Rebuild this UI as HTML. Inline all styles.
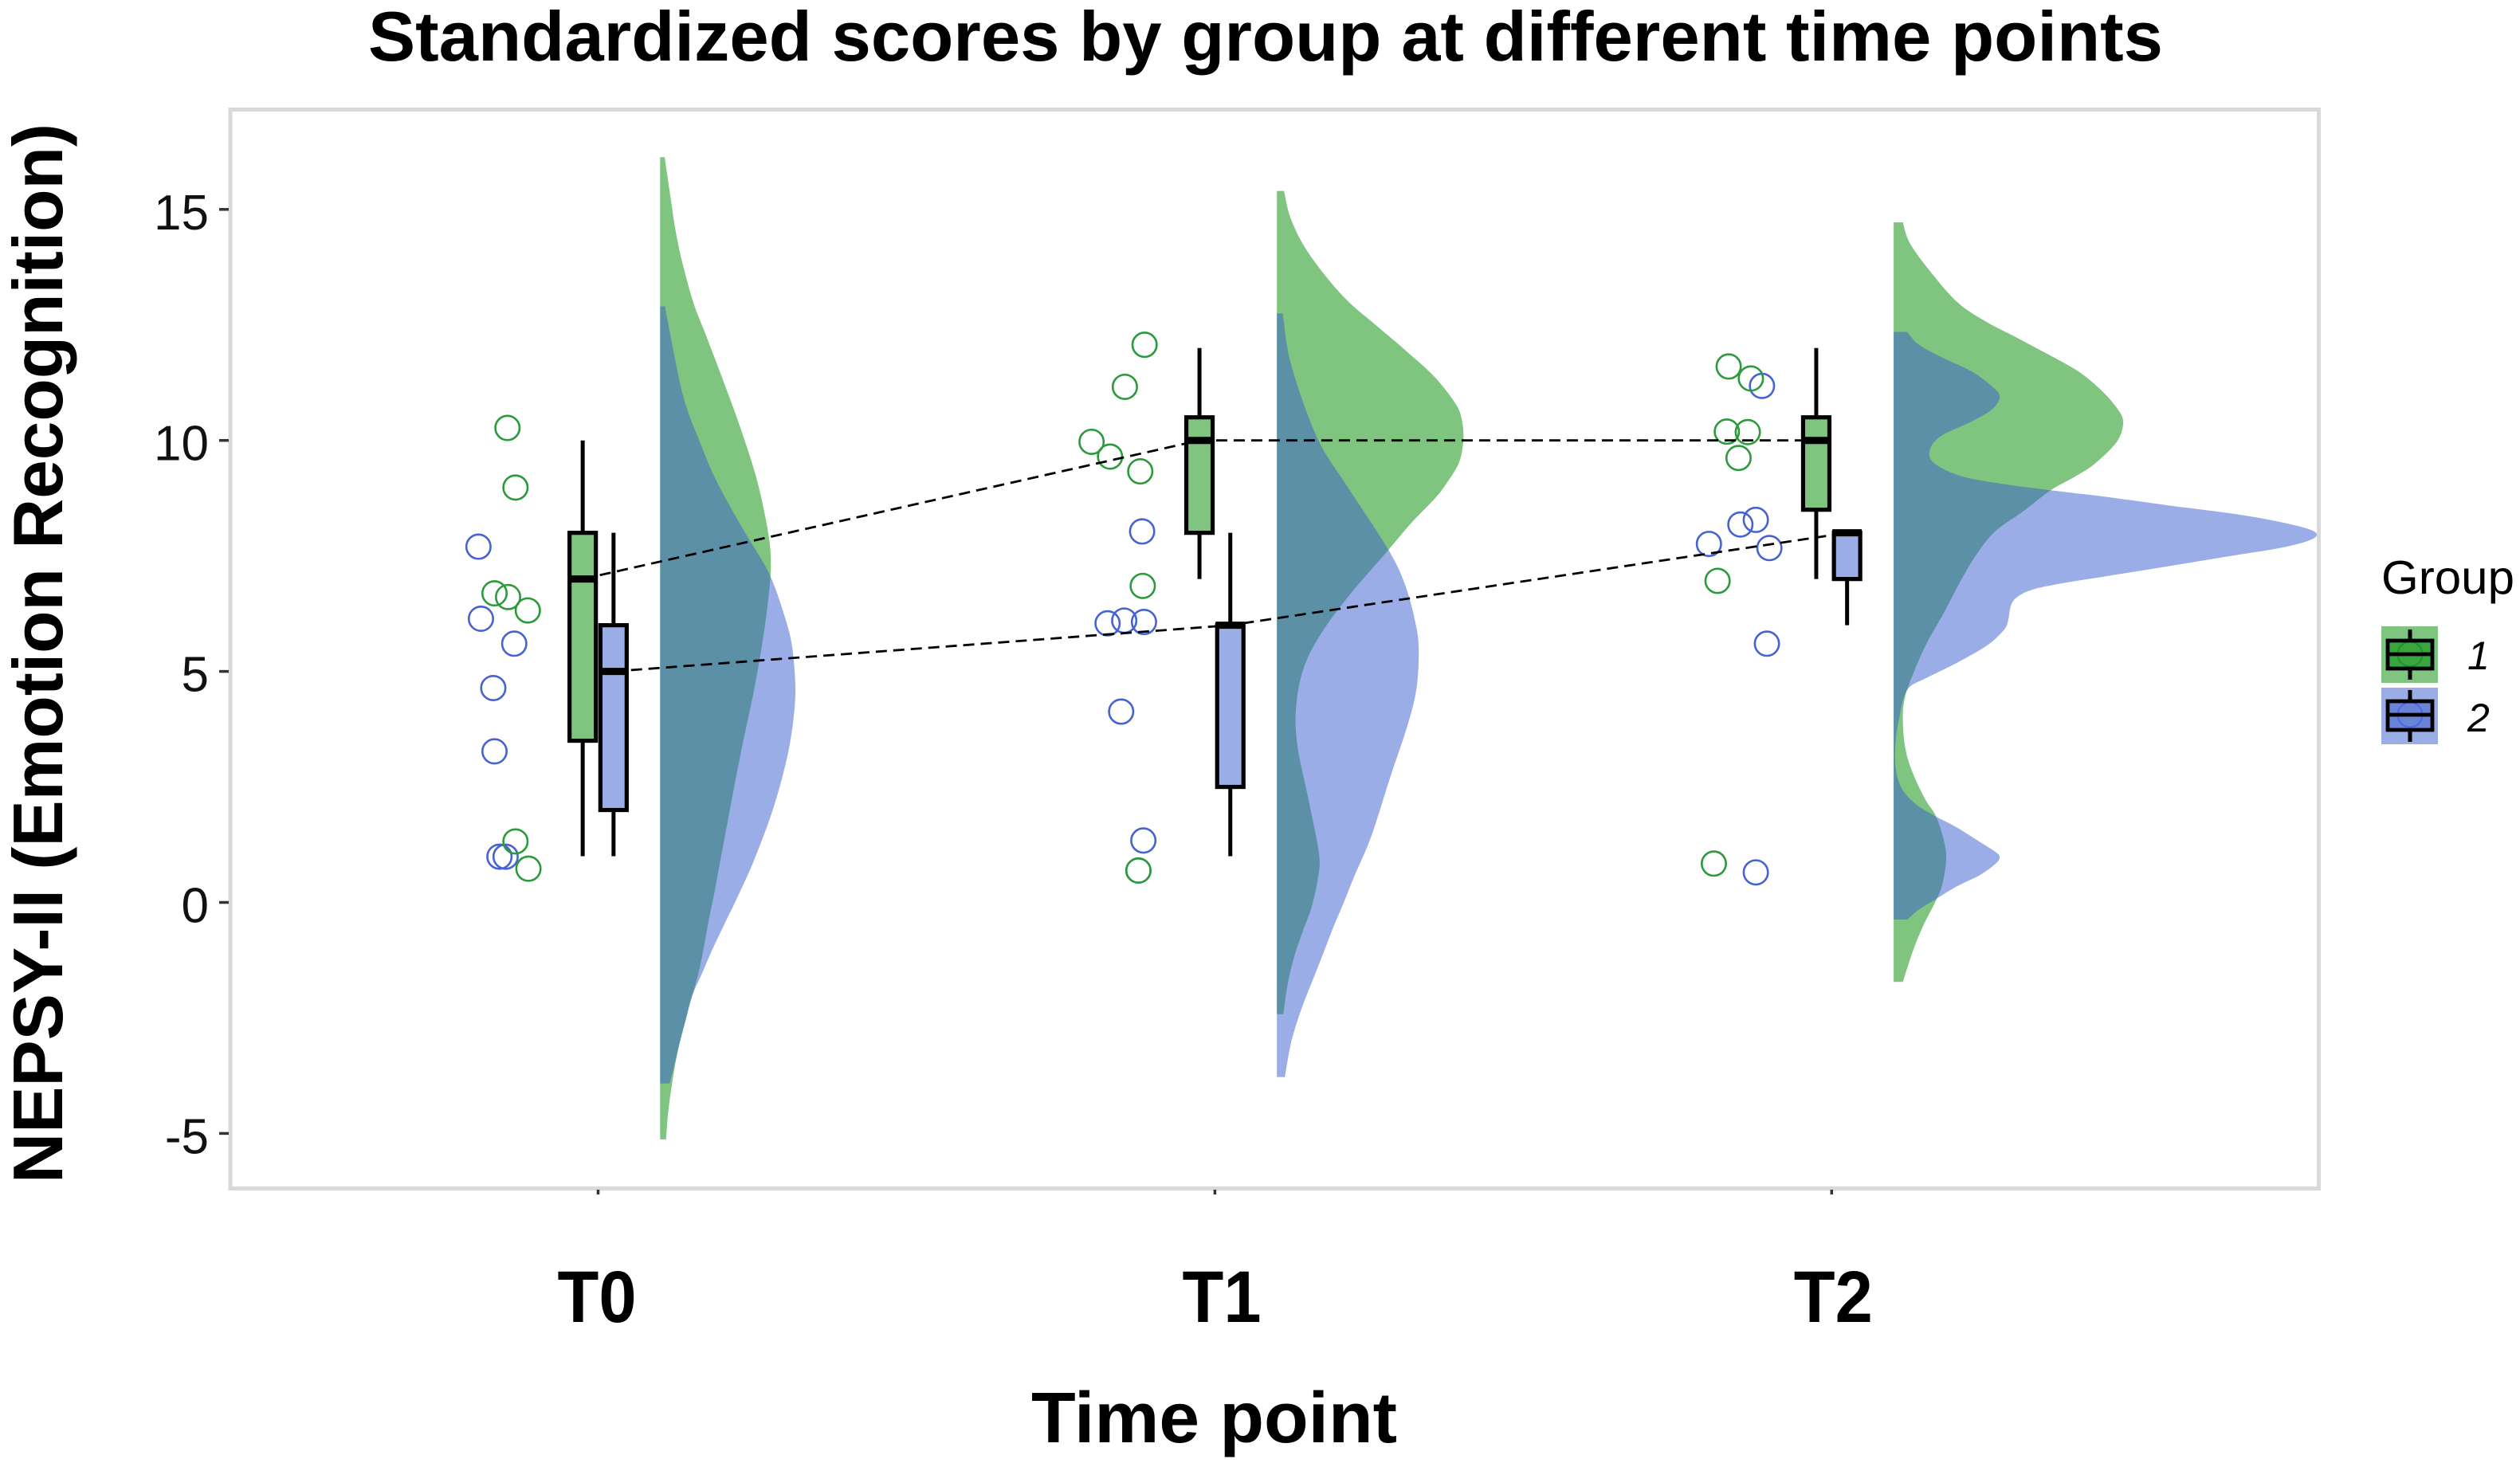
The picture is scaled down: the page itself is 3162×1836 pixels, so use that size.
<!DOCTYPE html>
<html lang="en">
<head>
<meta charset="utf-8">
<title>Standardized scores by group at different time points</title>
<style>
  html, body { margin: 0; padding: 0; background: #ffffff; }
  svg { display: block; }
  text { font-family: "Liberation Sans", Arial, sans-serif; }
</style>
</head>
<body>
<svg id="chart" xmlns="http://www.w3.org/2000/svg" width="3162" height="1836" viewBox="0 0 3162 1836">
  <rect x="0" y="0" width="3162" height="1836" fill="#ffffff"/>
  <text x="462" y="76" font-size="88" font-weight="700" fill="#000" textLength="2252" lengthAdjust="spacingAndGlyphs">Standardized scores by group at different time points</text>
  <text transform="translate(78,1485) rotate(-90)" x="0" y="0" font-size="88" font-weight="700" fill="#000" textLength="1330" lengthAdjust="spacingAndGlyphs">NEPSY-II (Emotion Recognition)</text>
  <text x="1294" y="1810" font-size="90" font-weight="700" fill="#000" textLength="459" lengthAdjust="spacingAndGlyphs">Time point</text>
  <rect x="289" y="137.5" width="2620.5" height="1354" fill="none" stroke="#d9d9d9" stroke-width="5"/>
  <g id="y-axis"></g>
  <g id="x-axis"></g>
  <g id="densities"></g>
  <g id="points"></g>
  <g id="links"></g>
  <g id="boxes"></g>

  <g>
    <text x="2988" y="745" font-size="59" fill="#000" textLength="167" lengthAdjust="spacingAndGlyphs">Group</text>
    <g>
      <rect x="2988" y="786" width="71" height="71" fill="#008900" fill-opacity="0.5"/>
      <line x1="3024" x2="3024" y1="790" y2="853" stroke="#000" stroke-width="5"/>
      <rect x="2996" y="804" width="56" height="35" fill="#3aa53f"/>
      <circle cx="3024" cy="821" r="15.5" fill="none" stroke="#1f8f2f" stroke-width="2"/>
      <rect x="2996" y="804" width="56" height="35" fill="none" stroke="#000" stroke-width="4.8"/>
      <line x1="2996" x2="3052" y1="821" y2="821" stroke="#000" stroke-width="4.8"/>
      <text x="3096" y="840" font-size="50" font-style="italic" fill="#000">1</text>
    </g>
    <g>
      <rect x="2988" y="863" width="71" height="71" fill="#375bcd" fill-opacity="0.5"/>
      <line x1="3024" x2="3024" y1="866" y2="931" stroke="#000" stroke-width="5"/>
      <rect x="2996" y="880" width="56" height="36" fill="#6a82d8"/>
      <circle cx="3024" cy="897" r="15.5" fill="none" stroke="#4a6ae0" stroke-width="2"/>
      <rect x="2996" y="880" width="56" height="36" fill="none" stroke="#000" stroke-width="4.8"/>
      <line x1="2996" x2="3052" y1="897" y2="897" stroke="#000" stroke-width="4.8"/>
      <text x="3096" y="918" font-size="50" font-style="italic" fill="#000">2</text>
    </g>
  </g>
</svg>

<script>
// ---------- axis data ----------
const categories = ["T0", "T1", "T2"];
const yTicks = [15, 10, 5, 0, -5];
const yTickLabels = ["15", "10", "5", "0", "-5"];
const groups = ["1", "2"];

// ---------- boxplot statistics, indexed by time point ----------
const g1WhiskerLow  = [1, 7, 7];
const g1BoxLow      = [3.5, 8, 8.5];
const g1Median      = [7, 10, 10];
const g1BoxHigh     = [8, 10.5, 10.5];
const g1WhiskerHigh = [10, 12, 12];

const g2WhiskerLow  = [1, 1, 6];
const g2BoxLow      = [2, 2.5, 7];
const g2Median      = [5, 6, 8];
const g2BoxHigh     = [6, 6, 8];
const g2WhiskerHigh = [8, 8, 8];

// ---------- individual scores and their jitter (in category units) ----------
const t0G1Scores = [10.27, 8.98, 6.69, 6.61, 6.32, 1.32, 0.73];
const t0G1Jitter = [-0.147, -0.134, -0.168, -0.146, -0.114, -0.134, -0.113];
const t0G2Scores = [7.70, 6.14, 5.6, 4.64, 3.27, 0.99, 0.99];
const t0G2Jitter = [-0.194, -0.190, -0.136, -0.170, -0.168, -0.160, -0.150];

const t1G1Scores = [12.07, 11.16, 9.97, 9.65, 9.33, 6.85, 0.69];
const t1G1Jitter = [-0.114, -0.146, -0.200, -0.170, -0.121, -0.117, -0.124];
const t1G2Scores = [8.03, 6.04, 6.1, 6.07, 4.13, 1.34, 0.69];
const t1G2Jitter = [-0.118, -0.174, -0.147, -0.115, -0.152, -0.116, -0.124];

const t2G1Scores = [11.6, 11.34, 10.19, 10.18, 9.62, 6.96, 0.84];
const t2G1Jitter = [-0.167, -0.131, -0.170, -0.136, -0.151, -0.185, -0.191];
const t2G2Scores = [11.18, 8.28, 8.18, 7.76, 7.67, 5.6, 0.65];
const t2G2Jitter = [-0.113, -0.123, -0.148, -0.199, -0.101, -0.105, -0.123];

// ---------- density curves: score value and density height ----------
const t0G1DensityV = [16.13,15.27,14.58,13.84,12.97,12.32,11.46,10.28,9.11,7.96,7.28,6.61,5.70,4.61,3.18,1.59,0.2,-0.30,-1.39,-2.15,-2.54,-3.23,-3.92,-4.56,-5.13];
const t0G1DensityD = [0.057,0.13,0.19,0.28,0.42,0.565,0.756,1.006,1.22,1.36,1.39,1.36,1.29,1.18,1.006,0.83,0.68,0.62,0.50,0.38,0.32,0.22,0.15,0.10,0.075];
const t0G2DensityV = [12.9,12.63,10.96,9.96,9.11,8.2,7.37,7.03,6.53,5.7,4.94,4.27,3.27,2.09,0.92,0.04,-0.42,-1.04,-1.56,-2.03,-2.49,-3.01,-3.58,-3.92];
const t0G2DensityD = [0.066,0.09,0.29,0.50,0.71,1.0,1.29,1.39,1.5,1.64,1.69,1.69,1.61,1.43,1.18,0.95,0.82,0.65,0.52,0.40,0.33,0.25,0.17,0.12];

const t1G1DensityV = [15.4,14.82,14.18,13.54,13.0,12.54,12,11.39,10.8,10.45,10.0,9.5,9.0,8.72,8.22,7.63,6.63,5.78,5.04,4.2,3.37,2.2,1.03,0.47,-0.13,-0.6,-1.16,-1.73,-2.42];
const t1G1DensityD = [0.09,0.17,0.35,0.62,0.90,1.21,1.58,1.97,2.24,2.32,2.34,2.28,2.10,1.97,1.69,1.40,0.90,0.54,0.33,0.24,0.26,0.40,0.53,0.51,0.43,0.33,0.22,0.14,0.08];
const t1G2DensityV = [12.75,11.63,10.04,8.96,7.63,6.87,6.04,5.46,4.61,3.78,2.7,1.44,0.56,0,-0.53,-1.11,-1.68,-2.2,-2.77,-3.18,-3.78];
const t1G2DensityD = [0.073,0.18,0.51,0.90,1.40,1.61,1.74,1.78,1.75,1.63,1.42,1.186,0.97,0.84,0.71,0.58,0.45,0.33,0.22,0.16,0.10];

const t2G1DensityV = [14.72,14.28,13.7,12.99,12.56,12.22,11.87,11.49,11.06,10.68,10.39,9.97,9.49,9.22,8.92,8.47,8.04,7.56,7.02,6.27,5.56,4.8,4.37,3.94,3.3,2.76,2.22,1.9,1.47,0.98,0.39,0,-0.47,-1.01,-1.72];
const t2G1DensityD = [0.115,0.20,0.44,0.80,1.17,1.55,1.93,2.32,2.62,2.81,2.88,2.80,2.52,2.28,1.97,1.63,1.28,1.05,0.86,0.63,0.40,0.21,0.134,0.115,0.15,0.25,0.40,0.52,0.61,0.66,0.61,0.52,0.38,0.25,0.115];
const t2G2DensityV = [12.35,12.08,11.81,11.49,11.16,10.95,10.68,10.41,10.09,9.77,9.49,9.22,9.06,8.92,8.77,8.59,8.42,8.25,8.09,7.96,7.82,7.66,7.5,7.28,7.07,6.91,6.77,6.61,6.42,6.09,5.89,5.56,5.18,4.85,4.68,4.43,4.05,3.58,3.03,2.65,2.39,2.11,1.87,1.63,1.3,1.09,0.98,0.84,0.6,0.34,0.06,-0.15,-0.37];
const t2G2DensityD = [0.17,0.31,0.59,0.98,1.24,1.33,1.24,0.98,0.59,0.45,0.52,0.86,1.36,1.97,2.70,3.46,4.23,4.81,5.19,5.31,5.19,4.81,4.23,3.46,2.70,2.12,1.74,1.55,1.47,1.435,1.38,1.17,0.785,0.40,0.21,0.126,0.076,0.03,0.02,0.057,0.13,0.29,0.52,0.785,1.09,1.28,1.33,1.28,1.09,0.785,0.52,0.32,0.17];

// ---------- scales and style ----------
const SVGNS = "http://www.w3.org/2000/svg";
const xScale = function (t) { return 750.5 + 773.9 * t; };
const yScale = function (v) { return 1132.5 - 57.98 * v; };
const densityScale = function (d) { return d * 100; };
const DODGE = 0.025;
const BOX_HALF = 16.5;
const DENSITY_OFFSET = 0.1005;
const FILLS = { g1: "#008900", g2: "#375bcd" };
const STROKES = { g1: "#2a9a3a", g2: "#4663d0" };
const labelOffset = function (i) { return i === 1 ? 8.6 : (i === 0 ? -1.5 : 2); };

function mk(parent, tag, attrs) {
  const el = document.createElementNS(SVGNS, tag);
  for (const k in attrs) el.setAttribute(k, attrs[k]);
  parent.appendChild(el);
  return el;
}

// ---------- y axis ----------
const yAxis = document.getElementById("y-axis");
yTicks.forEach(function (v, i) {
  const tick = mk(yAxis, "line", { x1: 275, x2: 287, y1: yScale(v), y2: yScale(v), stroke: "#333", "stroke-width": 3.5 });
  
  
  const label = mk(yAxis, "text", { x: 262, y: yScale(v) + 25, "text-anchor": "end", "font-size": 62, fill: "#111" });
  
  
  label.textContent = yTickLabels[i];
});

// ---------- x axis ----------
const xAxis = document.getElementById("x-axis");
categories.forEach(function (c, i) {
  const tick = mk(xAxis, "line", { x1: xScale(i), x2: xScale(i), y1: 1493, y2: 1499, stroke: "#333", "stroke-width": 3.5 });
  
  
  const label = mk(xAxis, "text", { x: xScale(i) + labelOffset(i), y: 1659, "text-anchor": "middle", "font-size": 92, "font-weight": 700, fill: "#000", textLength: 99, lengthAdjust: "spacingAndGlyphs" });
  
  
  label.textContent = c;
});

// ---------- density clouds ----------
function densityPath(t, values, dens) {
  const base = xScale(t + DENSITY_OFFSET);
  const pts = values.map(function (v, i) { return [base + densityScale(dens[i]), yScale(v)]; });
  let d = "M" + base + " " + pts[0][1] + "L" + pts[0][0] + " " + pts[0][1];
  for (let i = 0; i < pts.length - 1; i++) {
    const p0 = pts[Math.max(i - 1, 0)], p1 = pts[i], p2 = pts[i + 1], p3 = pts[Math.min(i + 2, pts.length - 1)];
    const c1x = p1[0] + (p2[0] - p0[0]) / 6, c1y = p1[1] + (p2[1] - p0[1]) / 6;
    const c2x = p2[0] - (p3[0] - p1[0]) / 6, c2y = p2[1] - (p3[1] - p1[1]) / 6;
    d += "C" + c1x.toFixed(1) + " " + c1y.toFixed(1) + " " + c2x.toFixed(1) + " " + c2y.toFixed(1) + " " + p2[0].toFixed(1) + " " + p2[1].toFixed(1);
  }
  d += "L" + base + " " + pts[pts.length - 1][1] + "Z";
  return d;
}
const densityLayer = document.getElementById("densities");
function addDensity(t, values, dens, fill) {
  const path = mk(densityLayer, "path", { d: densityPath(t, values, dens), fill: fill, "fill-opacity": 0.5 });
  
  
}
addDensity(0, t0G1DensityV, t0G1DensityD, FILLS.g1);
addDensity(0, t0G2DensityV, t0G2DensityD, FILLS.g2);
addDensity(1, t1G1DensityV, t1G1DensityD, FILLS.g1);
addDensity(1, t1G2DensityV, t1G2DensityD, FILLS.g2);
addDensity(2, t2G1DensityV, t2G1DensityD, FILLS.g1);
addDensity(2, t2G2DensityV, t2G2DensityD, FILLS.g2);

// ---------- jittered points ----------
const pointLayer = document.getElementById("points");
function addPoints(t, scores, jitter, stroke) {
  scores.forEach(function (v, i) {
    const c = mk(pointLayer, "circle", { cx: xScale(t + jitter[i]), cy: yScale(v), r: 15.2, fill: "none", stroke: stroke, "stroke-width": 2.6 });
    
    
  });
}
addPoints(0, t0G2Scores, t0G2Jitter, STROKES.g2);
addPoints(0, t0G1Scores, t0G1Jitter, STROKES.g1);
addPoints(1, t1G2Scores, t1G2Jitter, STROKES.g2);
addPoints(1, t1G1Scores, t1G1Jitter, STROKES.g1);
addPoints(2, t2G2Scores, t2G2Jitter, STROKES.g2);
addPoints(2, t2G1Scores, t2G1Jitter, STROKES.g1);

// ---------- dashed median lines ----------
const linkLayer = document.getElementById("links");
function addLink(medians, dodge) {
  const pts = medians.map(function (m, i) { return xScale(i + dodge).toFixed(1) + "," + yScale(m).toFixed(1); }).join(" ");
  const line = mk(linkLayer, "polyline", { points: pts, fill: "none", stroke: "#000", "stroke-width": 2.8, "stroke-dasharray": "14 8" });
  
  
}
addLink(g1Median, -DODGE);
addLink(g2Median, DODGE);

// ---------- boxplots ----------
const boxLayer = document.getElementById("boxes");
function addBoxes(wl, bl, med, bh, wh, dodge, fill) {
  categories.forEach(function (c, i) {
    const x = xScale(i + dodge);
    const w1 = mk(boxLayer, "line", { x1: x, x2: x, y1: yScale(wh[i]), y2: yScale(bh[i]), stroke: "#000", "stroke-width": 5 });
    
    
    const w2 = mk(boxLayer, "line", { x1: x, x2: x, y1: yScale(bl[i]), y2: yScale(wl[i]), stroke: "#000", "stroke-width": 5 });
    
    
    const box = mk(boxLayer, "rect", { x: x - BOX_HALF, y: yScale(bh[i]), width: BOX_HALF * 2, height: yScale(bl[i]) - yScale(bh[i]), fill: fill, "fill-opacity": 0.5, stroke: "#000", "stroke-width": 5.2 });
    
    
    const m = mk(boxLayer, "line", { x1: x - BOX_HALF - 2, x2: x + BOX_HALF + 2, y1: yScale(med[i]), y2: yScale(med[i]), stroke: "#000", "stroke-width": 9 });
    
    
  });
}
addBoxes(g2WhiskerLow, g2BoxLow, g2Median, g2BoxHigh, g2WhiskerHigh, DODGE, FILLS.g2);
addBoxes(g1WhiskerLow, g1BoxLow, g1Median, g1BoxHigh, g1WhiskerHigh, -DODGE, FILLS.g1);
</script>
</body>
</html>
